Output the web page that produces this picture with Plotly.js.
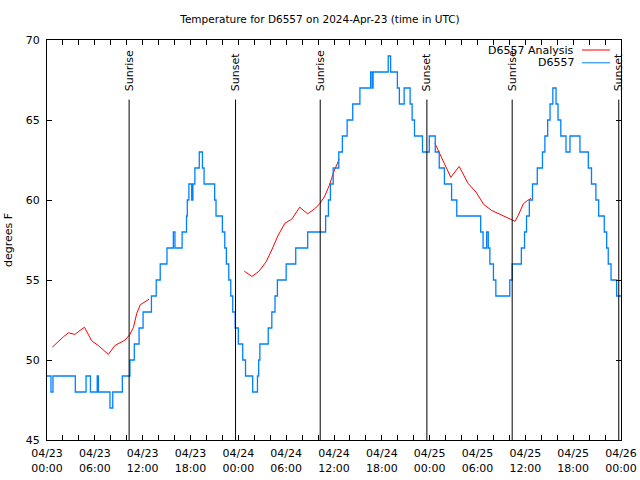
<!DOCTYPE html>
<html>
<head>
<meta charset="utf-8">
<script src="https://cdn.plot.ly/plotly-3.0.1.min.js"></script>
<style>html,body{margin:0;padding:0;background:#fff;}#chart{width:640px;height:480px;}</style>
</head>
<body>
<div id="chart"></div>
<script>
// Observation series D6557 (change points: hours after 2024-04-23 00:00 UTC, degrees F)
const blueHours = [0.0,0.5,0.75,3.55,4.9,5.45,6.3,6.45,7.9,8.25,9.45,10.4,10.95,11.55,12.05,13.1,13.7,14.2,15.05,15.85,16.05,16.95,17.5,17.6,17.8,18.15,18.3,18.55,19.1,19.5,19.7,21.03,21.2,22.0,22.3,22.5,22.8,23.05,23.3,23.6,24.0,24.55,24.9,25.8,26.4,26.55,26.7,27.75,28.2,28.6,28.9,30.0,31.2,32.7,34.95,35.3,35.55,35.9,36.6,37.05,37.65,38.35,39.25,40.6,40.8,40.9,42.8,43.1,43.95,44.2,44.8,45.55,45.8,46.1,47.1,47.95,48.7,49.2,49.85,50.75,51.4,54.4,54.7,55.15,55.35,55.55,56.0,56.3,58.05,58.35,59.5,59.9,60.15,60.5,60.9,61.5,62.15,62.45,62.8,63.1,63.45,63.85,64.1,64.45,65.1,65.6,66.85,67.9,68.3,68.85,69.2,69.9,70.2,70.4,70.75,71.45,72.0];
const blueTemps = [49,48,49,48,49,48,49,48,47,48,49,50,51,52,53,54,55,56,57,58,57,58,59,60,61,60,61,62,63,62,61,60,59,58,57,56,55,54,53,52,51,50,49,48,49,50,51,52,53,54,55,56,57,58,59,60,61,62,63,64,65,66,67,68,67,68,69,68,67,66,67,66,65,64,63,64,63,62,61,60,59,58,57,58,57,56,55,54,55,56,57,58,59,60,61,62,63,64,65,66,67,66,65,64,63,64,63,62,61,60,59,58,57,56,55,54,54];

// Analysis series (null separates the three runs)
const redHours = [0.67,1.4,2.05,2.7,3.5,4.15,4.7,5.6,6.45,7.7,8.5,9.8,10.4,10.85,11.25,11.7,12.2,12.8,null,
  24.75,25.7,26.6,27.5,28.3,29.0,29.85,30.7,31.7,32.7,33.7,34.25,34.8,35.4,36.0,36.65,null,
  48.65,49.25,49.95,50.65,51.7,52.8,53.8,54.8,55.8,57.0,58.05,58.7,59.1,59.75,60.25,60.7];
const redTemps = [50.8,51.15,51.45,51.7,51.6,51.85,52.05,51.2,50.9,50.35,50.9,51.25,51.6,52.05,52.9,53.45,53.6,53.8,null,
  55.55,55.22,55.55,56.15,57.0,57.8,58.55,58.8,59.55,59.13,59.5,59.8,60.2,60.9,61.8,62.55,null,
  63.55,62.9,62.1,61.42,62.1,61.05,60.5,59.71,59.34,59.07,58.86,58.67,59.03,59.76,59.96,60.1];

// Sunrise / sunset markers (hours after start)
const sunHours = [10.3,23.65,34.27,47.65,58.35,71.72];
const sunLabels = ['Sunrise','Sunset','Sunrise','Sunset','Sunrise','Sunset'];

const seriesNames = ['D6557 Analysis','D6557'];
const seriesColors = ['#ff0000','#0080ff'];

function pad(n){return (n<10?'0':'')+n;}
function toDate(h){
  if(h===null) return null;
  const d = new Date(Date.UTC(2024,3,23) + Math.round(h*3600000));
  return d.getUTCFullYear()+'-'+pad(d.getUTCMonth()+1)+'-'+pad(d.getUTCDate())+' '+pad(d.getUTCHours())+':'+pad(d.getUTCMinutes())+':'+pad(d.getUTCSeconds());
}

const font = {family:'DejaVu Sans, sans-serif', size:11, color:'#000'};
const titleFont = {family:'DejaVu Sans, sans-serif', size:10.5, color:'#000'};

const traces = [
  {x: redHours.map(toDate), y: redTemps, type:'scatter', mode:'lines', name: seriesNames[0],
   line:{color:seriesColors[0], width:1}, connectgaps:false, hoverinfo:'skip'},
  {x: blueHours.map(toDate), y: blueTemps, type:'scatter', mode:'lines', name: seriesNames[1],
   line:{color:seriesColors[1], width:1.3, shape:'hv'}, hoverinfo:'skip'}
];

const shapes = [];
const annotations = [];
sunHours.forEach((h,i)=>{
  shapes.push({type:'line', xref:'x', yref:'paper', x0:toDate(h), x1:toDate(h), y0:0, y1:0.851,
    line:{color:'#000', width:1}});
  annotations.push({xref:'x', yref:'paper', x:toDate(h), y:0.866, text:sunLabels[i], textangle:-90,
    showarrow:false, xanchor:'center', yanchor:'bottom', font:font});
});
// manual legend (text right-aligned, sample to the right)
const legY = [0.975, 0.943];
seriesNames.forEach((n,i)=>{
  annotations.push({xref:'paper', yref:'paper', x:0.921, y:legY[i], text:n, showarrow:false,
    xanchor:'right', yanchor:'middle', font:font});
  shapes.push({type:'line', xref:'paper', yref:'paper', x0:0.932, x1:0.981, y0:legY[i], y1:legY[i],
    line:{color:seriesColors[i], width:1}});
});

const layout = {
  width:640, height:480,
  margin:{l:47, r:19, t:40, b:40},
  paper_bgcolor:'#fff', plot_bgcolor:'#fff',
  font: font,
  showlegend:false,
  title:{text:'Temperature for D6557 on 2024-Apr-23 (time in UTC)', font:titleFont, x:0.5, xanchor:'center', y:0.959, yanchor:'middle'},
  xaxis:{type:'date', range:['2024-04-23 00:00:00','2024-04-26 00:00:00'],
    dtick: 6*3600000, tick0:'2024-04-23 00:00:00', tickformat:'%m/%d<br>%H:%M',
    ticks:'inside', ticklen:5, tickcolor:'#000', showline:true, linecolor:'#000', linewidth:1, mirror:'ticks',
    showgrid:false, zeroline:false, tickfont:font, ticklabelstandoff:3,
    minor:{dtick:2*3600000, tick0:'2024-04-23 00:00:00', ticks:'inside', ticklen:5, tickcolor:'#000', showgrid:false}},
  yaxis:{range:[45,70], dtick:5, ticks:'inside', ticklen:5, tickcolor:'#000',
    showline:true, linecolor:'#000', linewidth:1, mirror:'ticks', showgrid:false, zeroline:false,
    tickfont:font, ticklabelstandoff:4,
    title:{text:'degrees F', font:font, standoff:10}},
  shapes: shapes,
  annotations: annotations
};

Plotly.newPlot('chart', traces, layout, {displayModeBar:false, staticPlot:true});
</script>
</body>
</html>
